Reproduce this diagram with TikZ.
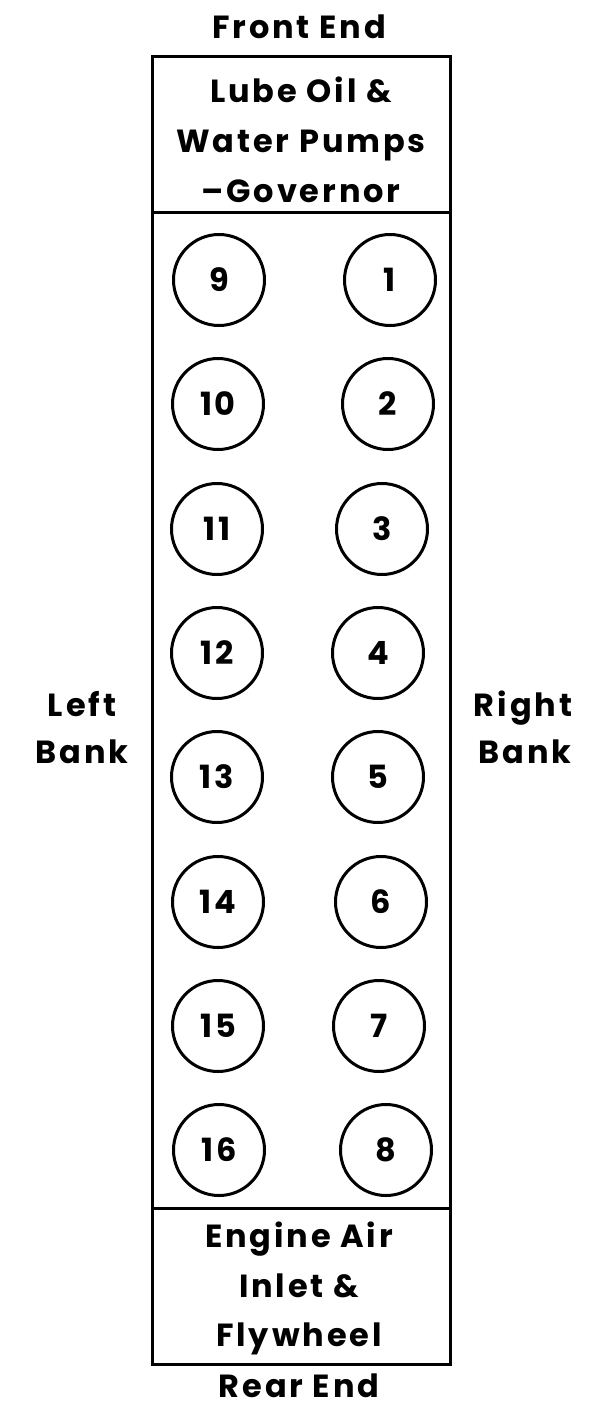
\documentclass[tikz,border=0pt]{standalone}
\usepackage{fontspec}
\setmainfont{Poppins}[LetterSpace=9]
\begin{document}
\begin{tikzpicture}[x=1pt,y=-1pt,
  lbl/.style={font=\fontsize{32}{32}\selectfont\bfseries, inner sep=0pt, anchor=base},
  cyl/.style={circle, draw, line width=3pt, minimum size=91pt, inner sep=0pt,
              font=\fontsize{32}{32}\selectfont\bfseries},
  frame/.style={line width=3pt}]
\useasboundingbox (0,0) rectangle (597,1408);
% frame
\coordinate (tl) at (152,56);
\coordinate (br) at (450,1364);
\draw[frame] (tl) rectangle (br);
\coordinate (d1l) at (152,212);
\coordinate (d1r) at (450,212);
\coordinate (d2l) at (152,1208);
\coordinate (d2r) at (450,1208);
\draw[frame] (d1l) -- (d1r);
\draw[frame] (d2l) -- (d2r);
% labels
\node[lbl] (front) at (299,38) {Front End};
\node[lbl] (lube1) at (301,102) {Lube Oil \&};
\node[lbl] (lube2) at (301,152) {Water Pumps};
\node[lbl] (lube3) at (301,202) {\textendash Governor};
\node[lbl] (eng1) at (299,1247) {Engine Air};
\node[lbl] (eng2) at (299,1297) {Inlet \&};
\node[lbl] (eng3) at (299,1346) {Flywheel};
\node[lbl] (rear) at (299,1397) {Rear End};
\node[lbl] (lb1) at (82,716) {Left};
\node[lbl] (lb2) at (82,763) {Bank};
\node[lbl] (rb1) at (523,716) {Right};
\node[lbl] (rb2) at (525,763) {Bank};
% cylinders
\foreach \n/\x/\y in {9/219/280,10/218/404,11/217/529,12/217/653,13/217/777,14/218/902,15/218/1026,16/219/1150}
  \node[cyl] (c\n) at (\x,\y) {\n};
\foreach \n/\x/\y in {1/390/280,2/388/404,3/382/529,4/378/653,5/378/777,6/381/902,7/379/1026,8/386/1150}
  \node[cyl] (c\n) at (\x,\y) {\n};
\end{tikzpicture}
\end{document}
